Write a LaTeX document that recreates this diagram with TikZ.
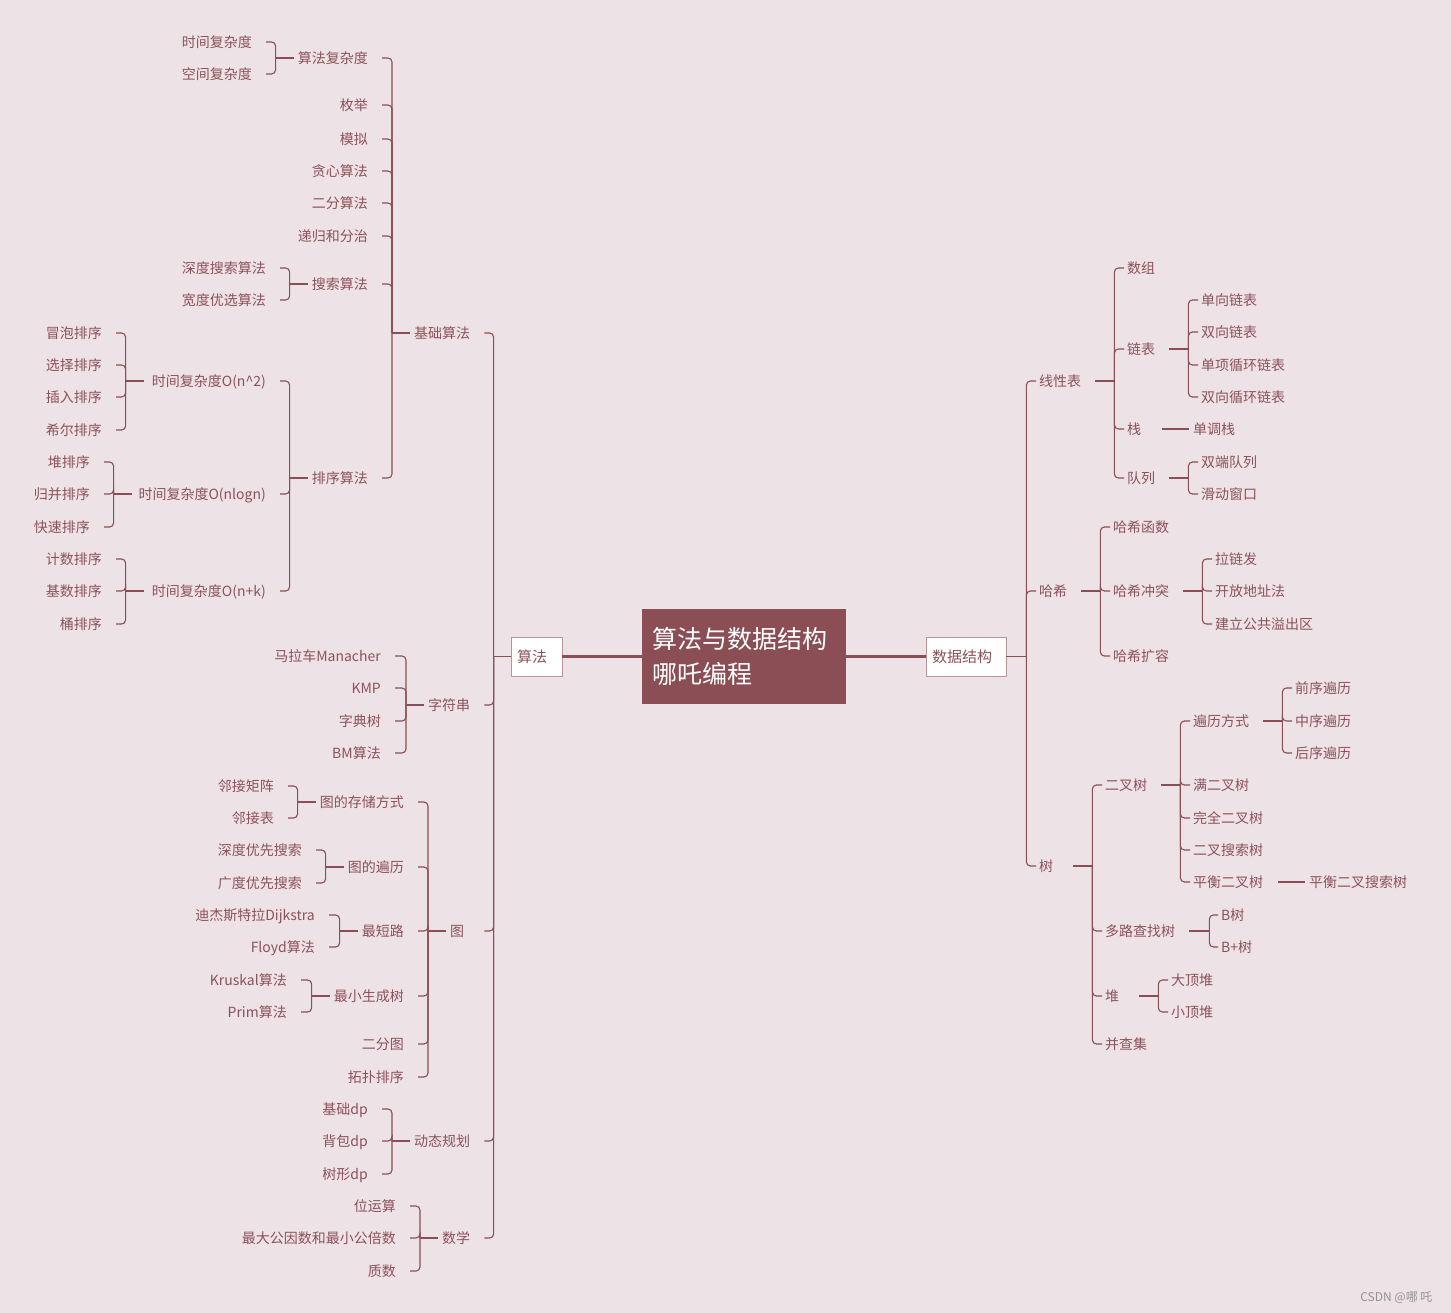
\documentclass[tikz,border=0pt]{standalone}
\usepackage{fontspec}
\setmainfont{Noto Sans CJK SC}
\usepackage{tikz}
\definecolor{bgc}{RGB}{237,226,230}
\definecolor{lc}{RGB}{139,78,86}
\definecolor{tc}{RGB}{140,82,90}
\definecolor{boxc}{RGB}{139,78,85}

\begin{document}
\begin{tikzpicture}[
  x=1pt, y=-1pt,
  lbl/.style={font=\fontsize{14}{16}\selectfont, text=tc, inner xsep=0pt,
              text height=12pt, text depth=1.5pt},
  lt/.style={lbl, anchor=east},
  rt/.style={lbl, anchor=west},
  mbox/.style={draw=lc!60, fill=white, line width=.8pt, minimum height=39pt,
               inner xsep=6pt, align=left, text=tc, font=\fontsize{15}{17}\selectfont},
  stem/.style={draw=lc, line width=1.8pt},
  mainln/.style={draw=lc, line width=2.4pt},
  lstem/.style={stem, shorten <=4pt},
  rstem/.style={stem, shorten <=14pt},
  lk/.style={draw=lc, line width=1.1pt, rounded corners=4pt},
  lkl/.style={lk, shorten >=14pt},
  lkr/.style={lk, shorten >=3pt}
]
  \fill[bgc] (0,0) rectangle (1451,1313);

  % Centre
  \node[fill=boxc, text=white, minimum height=95pt, text width=184pt, inner xsep=10pt,
        align=left, font=\fontsize{25}{35}\selectfont] (ct) at (744,656.5)
        {算法与数据结构\\哪吒编程};
  \node[mbox, text width=39pt] (sf) at (536.5,656.5) {算法};
  \node[mbox, text width=68pt] (sj) at (966,656.5) {数据结构};

  % Algorithms: basics
  \node[rt] (jc) at (414,333) {基础算法};
  \node[lt] (fz) at (368,58) {算法复杂度};
  \node[lt] (mj) at (368,105) {枚举};
  \node[lt] (mn) at (368,139) {模拟};
  \node[lt] (tx) at (368,171) {贪心算法};
  \node[lt] (ef) at (368,203) {二分算法};
  \node[lt] (dg) at (368,236) {递归和分治};
  \node[lt] (ss) at (368,284) {搜索算法};
  \node[lt] (px) at (368,478) {排序算法};
  \node[lt] (sjfz) at (252,42) {时间复杂度};
  \node[lt] (kjfz) at (252,74) {空间复杂度};
  \node[lt] (sdss) at (266,268) {深度搜索算法};
  \node[lt] (kdss) at (266,300) {宽度优选算法};
  \node[lt, text width=118pt, align=right] (on2) at (266,381) {时间复杂度O(n\textasciicircum 2)};
  \node[lt, text width=130pt, align=right] (onl) at (266,494) {时间复杂度O(nlogn)};
  \node[lt, text width=118pt, align=right] (onk) at (266,591) {时间复杂度O(n+k)};
  \node[lt] (mp) at (102,333) {冒泡排序};
  \node[lt] (xz) at (102,365) {选择排序};
  \node[lt] (cr) at (102,397) {插入排序};
  \node[lt] (xe) at (102,430) {希尔排序};
  \node[lt] (dpx) at (90,462) {堆排序};
  \node[lt] (gb) at (90,494) {归并排序};
  \node[lt] (ks) at (90,527) {快速排序};
  \node[lt] (js) at (102,559) {计数排序};
  \node[lt] (jsp) at (102,591) {基数排序};
  \node[lt] (tpx) at (102,624) {桶排序};

  % Algorithms: strings, graphs, dp, maths
  \node[rt] (zf) at (428,705) {字符串};
  \node[lt] (mlc) at (381,656) {马拉车Manacher};
  \node[lt] (kmp) at (381,688) {KMP};
  \node[lt] (zd) at (381,721) {字典树};
  \node[lt] (bm) at (381,753) {BM算法};
  \node[rt] (tu) at (450,931) {图};
  \node[lt] (cc) at (404,802) {图的存储方式};
  \node[lt] (bl) at (404,867) {图的遍历};
  \node[lt] (zdl) at (404,931) {最短路};
  \node[lt] (zxs) at (404,996) {最小生成树};
  \node[lt] (eft) at (404,1044) {二分图};
  \node[lt] (tppx) at (404,1077) {拓扑排序};
  \node[lt] (ljjz) at (274,786) {邻接矩阵};
  \node[lt] (ljb) at (274,818) {邻接表};
  \node[lt] (sdyx) at (302,850) {深度优先搜索};
  \node[lt] (gdyx) at (302,883) {广度优先搜索};
  \node[lt] (djk) at (315,915) {迪杰斯特拉Dijkstra};
  \node[lt] (fld) at (315,947) {Floyd算法};
  \node[lt] (kru) at (287,980) {Kruskal算法};
  \node[lt] (prm) at (287,1012) {Prim算法};
  \node[rt] (dtgh) at (414,1141) {动态规划};
  \node[lt] (jcdp) at (368,1109) {基础dp};
  \node[lt] (bbdp) at (368,1141) {背包dp};
  \node[lt] (sxdp) at (368,1174) {树形dp};
  \node[rt] (sx) at (442,1238) {数学};
  \node[lt] (wys) at (396,1206) {位运算};
  \node[lt] (gys) at (396,1238) {最大公因数和最小公倍数};
  \node[lt] (zs) at (396,1271) {质数};

  % Data structures
  \node[rt] (xxb) at (1039,381) {线性表};
  \node[rt] (sz) at (1127,268) {数组};
  \node[rt] (lb) at (1127,349) {链表};
  \node[rt] (zhan) at (1127,429) {栈};
  \node[rt] (dl) at (1127,478) {队列};
  \node[rt] (dxlb) at (1201,300) {单向链表};
  \node[rt] (sxlb) at (1201,332) {双向链表};
  \node[rt] (dxxh) at (1201,365) {单项循环链表};
  \node[rt] (sxxh) at (1201,397) {双向循环链表};
  \node[rt] (ddz) at (1193,429) {单调栈};
  \node[rt] (sdd) at (1201,462) {双端队列};
  \node[rt] (hdck) at (1201,494) {滑动窗口};
  \node[rt] (hx) at (1039,591) {哈希};
  \node[rt] (hxhs) at (1113,527) {哈希函数};
  \node[rt] (hxct) at (1113,591) {哈希冲突};
  \node[rt] (hxkr) at (1113,656) {哈希扩容};
  \node[rt] (lzf) at (1215,559) {拉链发};
  \node[rt] (kfdz) at (1215,591) {开放地址法};
  \node[rt] (jlgg) at (1215,624) {建立公共溢出区};
  \node[rt] (shu) at (1039,866) {树};
  \node[rt] (ecs) at (1105,785) {二叉树};
  \node[rt] (dlcz) at (1105,931) {多路查找树};
  \node[rt] (dui) at (1105,996) {堆};
  \node[rt] (bcj) at (1105,1044) {并查集};
  \node[rt] (blfs) at (1193,721) {遍历方式};
  \node[rt] (mecs) at (1193,785) {满二叉树};
  \node[rt] (wqecs) at (1193,818) {完全二叉树};
  \node[rt] (ecss) at (1193,850) {二叉搜索树};
  \node[rt] (phecs) at (1193,882) {平衡二叉树};
  \node[rt] (qxbl) at (1295,688) {前序遍历};
  \node[rt] (zxbl) at (1295,721) {中序遍历};
  \node[rt] (hxbl) at (1295,753) {后序遍历};
  \node[rt] (phss) at (1309,882) {平衡二叉搜索树};
  \node[rt] (bs) at (1221,915) {B树};
  \node[rt] (bps) at (1221,947) {B+树};
  \node[rt] (ddd) at (1171,980) {大顶堆};
  \node[rt] (xdd) at (1171,1012) {小顶堆};

  \node[anchor=east, text=gray!85, font=\fontsize{12}{14}\selectfont] (wm) at (1436,1298) {CSDN @哪 吒};

  % Centre links
  \draw[mainln] (sf) -- (ct);
  \draw[mainln] (ct) -- (sj);

  % Left branches
  \draw[stem] (sf.west) -- ++(-17pt,0);
  \foreach \c in {jc,zf,dtgh,sx} \draw[lkl] ([xshift=-17pt]sf.west) |- (\c.east);
  \draw[lk, shorten >=20pt] ([xshift=-17pt]sf.west) |- (tu.east);

  \draw[lstem] (jc.west) -- ++(-22pt,0);
  \foreach \c in {fz,mj,mn,tx,ef,dg,ss,px} \draw[lkl] ([xshift=-22pt]jc.west) |- (\c.east);
  \draw[lstem] (fz.west) -- ++(-22pt,0);
  \foreach \c in {sjfz,kjfz} \draw[lkl] ([xshift=-22pt]fz.west) |- (\c.east);
  \draw[lstem] (ss.west) -- ++(-22pt,0);
  \foreach \c in {sdss,kdss} \draw[lkl] ([xshift=-22pt]ss.west) |- (\c.east);
  \draw[lstem] (px.west) -- ++(-22pt,0);
  \foreach \c in {on2,onl,onk} \draw[lkl] ([xshift=-22pt]px.west) |- (\c.east);
  \draw[lstem] (on2.west) -- ++(-22pt,0);
  \foreach \c in {mp,xz,cr,xe} \draw[lkl] ([xshift=-22pt]on2.west) |- (\c.east);
  \draw[lstem] (onl.west) -- ++(-22pt,0);
  \foreach \c in {dpx,gb,ks} \draw[lkl] ([xshift=-22pt]onl.west) |- (\c.east);
  \draw[lstem] (onk.west) -- ++(-22pt,0);
  \foreach \c in {js,jsp,tpx} \draw[lkl] ([xshift=-22pt]onk.west) |- (\c.east);

  \draw[lstem] (zf.west) -- ++(-22pt,0);
  \foreach \c in {mlc,kmp,zd,bm} \draw[lkl] ([xshift=-22pt]zf.west) |- (\c.east);

  \draw[lstem] (tu.west) -- ++(-22pt,0);
  \foreach \c in {cc,bl,zdl,zxs,eft,tppx} \draw[lkl] ([xshift=-22pt]tu.west) |- (\c.east);
  \draw[lstem] (cc.west) -- ++(-22pt,0);
  \foreach \c in {ljjz,ljb} \draw[lkl] ([xshift=-22pt]cc.west) |- (\c.east);
  \draw[lstem] (bl.west) -- ++(-22pt,0);
  \foreach \c in {sdyx,gdyx} \draw[lkl] ([xshift=-22pt]bl.west) |- (\c.east);
  \draw[lstem] (zdl.west) -- ++(-22pt,0);
  \foreach \c in {djk,fld} \draw[lkl] ([xshift=-22pt]zdl.west) |- (\c.east);
  \draw[lstem] (zxs.west) -- ++(-22pt,0);
  \foreach \c in {kru,prm} \draw[lkl] ([xshift=-22pt]zxs.west) |- (\c.east);

  \draw[lstem] (dtgh.west) -- ++(-22pt,0);
  \foreach \c in {jcdp,bbdp,sxdp} \draw[lkl] ([xshift=-22pt]dtgh.west) |- (\c.east);
  \draw[lstem] (sx.west) -- ++(-22pt,0);
  \foreach \c in {wys,gys,zs} \draw[lkl] ([xshift=-22pt]sx.west) |- (\c.east);

  % Right branches
  \draw[stem] (sj.east) -- ++(20pt,0);
  \foreach \c in {xxb,hx,shu} \draw[lkr] ([xshift=20pt]sj.east) |- (\c.west);

  \draw[rstem] (xxb.east) -- ++(33pt,0);
  \foreach \c in {sz,lb,zhan,dl} \draw[lkr] ([xshift=33pt]xxb.east) |- (\c.west);
  \draw[rstem] (lb.east) -- ++(33pt,0);
  \foreach \c in {dxlb,sxlb,dxxh,sxxh} \draw[lkr] ([xshift=33pt]lb.east) |- (\c.west);
  \draw[lk, shorten <=21pt, shorten >=4pt] (zhan.east) -- (ddz.west);
  \draw[rstem] (dl.east) -- ++(33pt,0);
  \foreach \c in {sdd,hdck} \draw[lkr] ([xshift=33pt]dl.east) |- (\c.west);

  \draw[rstem] (hx.east) -- ++(33pt,0);
  \foreach \c in {hxhs,hxct,hxkr} \draw[lkr] ([xshift=33pt]hx.east) |- (\c.west);
  \draw[rstem] (hxct.east) -- ++(33pt,0);
  \foreach \c in {lzf,kfdz,jlgg} \draw[lkr] ([xshift=33pt]hxct.east) |- (\c.west);

  \draw[stem, shorten <=20pt] (shu.east) -- ++(39pt,0);
  \foreach \c in {ecs,dlcz,dui,bcj} \draw[lkr] ([xshift=39pt]shu.east) |- (\c.west);
  \draw[rstem] (ecs.east) -- ++(33pt,0);
  \foreach \c in {blfs,mecs,wqecs,ecss,phecs} \draw[lkr] ([xshift=33pt]ecs.east) |- (\c.west);
  \draw[rstem] (blfs.east) -- ++(33pt,0);
  \foreach \c in {qxbl,zxbl,hxbl} \draw[lkr] ([xshift=33pt]blfs.east) |- (\c.west);
  \draw[lk, shorten <=15pt, shorten >=4pt] (phecs.east) -- (phss.west);
  \draw[rstem] (dlcz.east) -- ++(34pt,0);
  \foreach \c in {bs,bps} \draw[lkr] ([xshift=34pt]dlcz.east) |- (\c.west);
  \draw[stem, shorten <=20pt] (dui.east) -- ++(39pt,0);
  \foreach \c in {ddd,xdd} \draw[lkr] ([xshift=39pt]dui.east) |- (\c.west);
\end{tikzpicture}
\end{document}
